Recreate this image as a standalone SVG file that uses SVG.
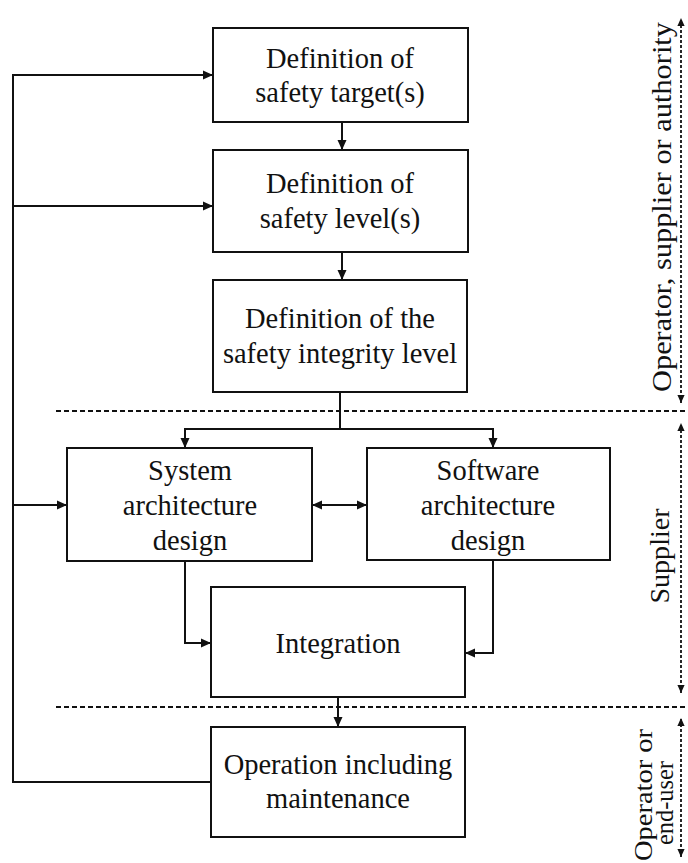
<svg xmlns="http://www.w3.org/2000/svg" width="688" height="863" viewBox="0 0 688 863">
<defs>
<marker id="ah" viewBox="0 0 10 10" refX="10" refY="5" markerWidth="10" markerHeight="10" markerUnits="userSpaceOnUse" orient="auto-start-reverse">
<path d="M0,0.5 L10,5 L0,9.5 Z" fill="#111"/>
</marker>
<marker id="sh" viewBox="0 0 10 10" refX="10" refY="5" markerWidth="8" markerHeight="8" markerUnits="userSpaceOnUse" orient="auto-start-reverse">
<path d="M0,0.5 L10,5 L0,9.5 Z" fill="#111"/>
</marker>
</defs>
<style>
.box{fill:#fff;stroke:#111;stroke-width:2}
.t{font-family:"Liberation Serif","Times New Roman",serif;font-size:28.5px;fill:#111;text-anchor:middle}
.c{fill:none;stroke:#111;stroke-width:2}
.a{marker-end:url(#ah)}
.dash{fill:none;stroke:#111;stroke-width:2;stroke-dasharray:5 3}
.dot{fill:none;stroke:#111;stroke-width:1.8;stroke-dasharray:3 2;marker-start:url(#sh);marker-end:url(#sh)}
.lbl{font-family:"Liberation Serif","Times New Roman",serif;font-size:28px;fill:#111;text-anchor:middle}
</style>
<rect width="688" height="863" fill="#fff"/>
<g id="connectors">
<line class="c a" x1="342" y1="122" x2="342" y2="150"/>
<line class="c a" x1="342" y1="252" x2="342" y2="280"/>
<polyline class="c" points="340,392 340,429"/>
<polyline class="c a" points="340,429 185,429 185,448"/>
<polyline class="c a" points="340,429 493,429 493,448"/>
<line class="c a" x1="312" y1="505" x2="367" y2="505" style="marker-start:url(#ah)"/>
<polyline class="c a" points="185,561 185,643 211,643"/>
<polyline class="c a" points="493,560 493,653 465,653"/>
<line class="c a" x1="338" y1="697" x2="338" y2="727"/>
<polyline class="c a" points="211,782 13,782 13,75 213,75"/>
<line class="c a" x1="13" y1="206" x2="213" y2="206"/>
<line class="c a" x1="13" y1="505" x2="67" y2="505"/>
</g>
<g id="separators">
<line class="dash" x1="56" y1="411" x2="688" y2="411"/>
<line class="dash" x1="56" y1="707" x2="688" y2="707"/>
<line class="dot" x1="681" y1="403" x2="681" y2="18"/>
<line class="dot" x1="681" y1="693" x2="681" y2="423"/>
<line class="dot" x1="681" y1="857" x2="681" y2="718"/>
</g>
<g id="n1"><rect class="box" x="213" y="28" width="255" height="94"/>
<text class="t" x="340" y="68">Definition of</text><text class="t" x="340" y="102">safety target(s)</text></g>
<g id="n2"><rect class="box" x="213" y="150" width="255" height="102"/>
<text class="t" x="340" y="193">Definition of</text><text class="t" x="340" y="228">safety level(s)</text></g>
<g id="n3"><rect class="box" x="213" y="280" width="254" height="112"/>
<text class="t" x="340" y="328">Definition of the</text><text class="t" x="340" y="363">safety integrity level</text></g>
<g id="n4"><rect class="box" x="67" y="448" width="245" height="113"/>
<text class="t" x="190" y="480">System</text><text class="t" x="190" y="515">architecture</text><text class="t" x="190" y="550">design</text></g>
<g id="n5"><rect class="box" x="367" y="448" width="243" height="112"/>
<text class="t" x="488" y="480">Software</text><text class="t" x="488" y="515">architecture</text><text class="t" x="488" y="550">design</text></g>
<g id="n6"><rect class="box" x="211" y="587" width="254" height="110"/>
<text class="t" x="338" y="653">Integration</text></g>
<g id="n7"><rect class="box" x="211" y="727" width="254" height="110"/>
<text class="t" x="338" y="774">Operation including</text><text class="t" x="338" y="808">maintenance</text></g>
<g id="labels">
<text class="lbl" transform="translate(671,207) rotate(-90)" textLength="370" lengthAdjust="spacingAndGlyphs">Operator, supplier or authority</text>
<text class="lbl" transform="translate(669,556) rotate(-90)" textLength="95" lengthAdjust="spacingAndGlyphs">Supplier</text>
<text class="lbl" transform="translate(652,795) rotate(-90)" style="font-size:26px" textLength="132" lengthAdjust="spacingAndGlyphs">Operator or</text>
<text class="lbl" transform="translate(673,803) rotate(-90)" style="font-size:26px" textLength="84" lengthAdjust="spacingAndGlyphs">end-user</text>
</g>
</svg>
